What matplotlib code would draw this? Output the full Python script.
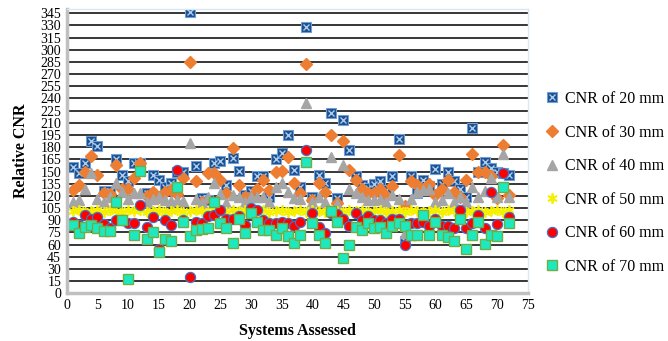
import numpy as np
import matplotlib.pyplot as plt

plt.rcParams['font.family'] = ['Liberation Serif', 'DejaVu Serif']

# systems 1..72
systems = list(range(1, 73))

cnr_20 = [156, 148, 160, 187, 181, 126, 126, 166, 146, 138, 160, 161,
          124, 146, 140, 131, 136, 150, 150, 347, 157, 117, 115, 160,
          163, 133, 167, 151, 121, 126, 144, 144, 119, 166, 173, 195,
          152, 131, 328, 118, 146, 136, 222, 117, 213, 176, 144, 133,
          130, 135, 138, 127, 144, 190, 64, 144, 123, 140, 132, 153,
          135, 149, 138, 129, 119, 204, 150, 162, 154, 150, 148, 146]
cnr_30 = [127, 133, 150, 169, 146, 123, 122, 158, 128, 128, 142, 160,
          120, 125, 118, 125, 127, 122, 142, 285, 138, 113, 148, 148,
          140, 123, 179, 133, 119, 118, 129, 140, 127, 150, 151, 168,
          136, 123, 283, 115, 136, 125, 195, 111, 187, 152, 140, 129,
          124, 124, 129, 120, 132, 170, 107, 138, 134, 128, 135, 121,
          128, 140, 125, 118, 140, 172, 149, 150, 145, 117, 183, 121]
cnr_40 = [113, 115, 129, 148, 116, 113, 119, 136, 125, 116, 124, 123,
          113, 116, 119, 115, 114, 115, 114, 185, 116, 111, 118, 136,
          122, 111, 121, 118, 113, 118, 119, 119, 113, 131, 136, 125,
          117, 116, 234, 112, 119, 112, 168, 110, 158, 128, 124, 119,
          115, 115, 116, 113, 121, 116, 74, 116, 125, 127, 128, 113,
          115, 123, 113, 118, 112, 131, 119, 126, 142, 118, 172, 119]
cnr_50 = [101, 102, 100, 101, 103, 100, 102, 101, 100, 102, 101, 103,
          100, 101, 102, 100, 101, 102, 100, 101, 103, 101, 100, 102,
          101, 100, 102, 101, 103, 100, 101, 102, 100, 101, 102, 100,
          101, 103, 100, 102, 101, 100, 102, 101, 100, 103, 101, 102,
          100, 101, 102, 100, 101, 103, 100, 102, 101, 100, 101, 102,
          100, 103, 101, 102, 100, 101, 102, 100, 101, 103, 100, 102]
cnr_60 = [88, 84, 97, 91, 94, 85, 80, 90, 90, 87, 87, 109,
          82, 94, 54, 90, 84, 152, 90, 20, 88, 87, 95, 97,
          103, 92, 92, 95, 84, 105, 102, 90, 87, 87, 88, 87,
          83, 88, 176, 99, 82, 74, 99, 98, 91, 83, 99, 90,
          95, 90, 90, 87, 92, 92, 60, 87, 86, 88, 83, 92,
          83, 83, 80, 102, 80, 87, 96, 80, 125, 85, 148, 94]
cnr_70 = [84, 74, 82, 84, 80, 77, 77, 112, 90, 18, 72, 151,
          67, 75, 51, 67, 65, 131, 88, 71, 78, 79, 80, 113,
          87, 81, 62, 91, 74, 99, 88, 78, 78, 72, 81, 71,
          62, 72, 162, 86, 72, 62, 101, 88, 43, 60, 82, 78,
          87, 80, 82, 74, 83, 87, 83, 72, 72, 97, 72, 88,
          72, 69, 65, 91, 54, 72, 88, 61, 72, 70, 131, 87]

fig = plt.figure(figsize=(6.68, 3.41), dpi=100)
ax = fig.add_axes([0.0998, 0.140, 0.690, 0.833])

ms = 7.3
# 20 mm: dark blue square with light x inside
b1, = ax.plot(systems, cnr_20, ls='none', marker='s', ms=ms,
              mfc='#1f4e8c', mec='#6f9fd8', mew=0.8)
b2, = ax.plot(systems, cnr_20, ls='none', marker='x', ms=ms * 0.6,
              mec='#a9cdf0', mew=1.0)
o, = ax.plot(systems, cnr_30, ls='none', marker='D', ms=ms * 0.85,
             mfc='#ed7d31', mec='#ed7d31')
g, = ax.plot(systems, cnr_40, ls='none', marker='^', ms=ms * 1.05,
             mfc='#a5a5a5', mec='#a5a5a5')
y, = ax.plot(systems, cnr_50, ls='none', marker=(6, 2, 0), ms=ms,
             mec='#f5f000', mew=1.3)
r, = ax.plot(systems, cnr_60, ls='none', marker='o', ms=ms,
             mfc='#ff0000', mec='#4472c4', mew=0.9)
gr, = ax.plot(systems, cnr_70, ls='none', marker='s', ms=ms * 0.95,
              mfc='#1de9c0', mec='#70ad47', mew=1.0)

ax.set_xlim(0, 75)
ax.set_ylim(0, 350)
ax.set_xticks(np.arange(0, 76, 5))
ax.set_yticks(np.arange(0, 346, 15))
ax.tick_params(length=0, labelsize=10, pad=4)
ax.yaxis.grid(True, color='black', lw=1.1)
ax.set_axisbelow(True)

for side in ['left', 'bottom']:
    ax.spines[side].set_color('#c0c0c0')
    ax.spines[side].set_linewidth(2.5)
for side in ['top', 'right']:
    ax.spines[side].set_color('#dbe8f4')
    ax.spines[side].set_linewidth(1.0)

ax.set_xlabel('Systems Assessed', fontsize=11.5, fontweight='bold', labelpad=8)
ax.set_ylabel('Relative CNR', fontsize=11.5, fontweight='bold', labelpad=8)

labels = ['CNR of 20 mm', 'CNR of 30 mm', 'CNR of 40 mm',
          'CNR of 50 mm', 'CNR of 60 mm', 'CNR of 70 mm']
fig.legend([(b1, b2), o, g, y, r, gr], labels, loc='upper left',
           bbox_to_anchor=(535 / 668, 1 - 83 / 341), frameon=False,
           fontsize=11.5, labelspacing=1.1, handletextpad=0.3,
           handlelength=1.1, borderpad=0)

fig.savefig('out.png', dpi=100)
